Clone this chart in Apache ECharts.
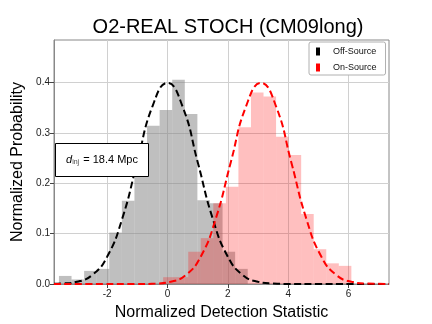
<!DOCTYPE html>
<html>
<head>
<meta charset="utf-8">
<script src="https://cdn.jsdelivr.net/npm/echarts@6/dist/echarts.min.js"></script>
<style>
html,body{margin:0;padding:0;background:#fff;}
#chart{width:432px;height:324px;}
</style>
</head>
<body>
<div id="chart"></div>
<script>
// ---- data ----
const titleText = 'O2-REAL STOCH (CM09long)';
const xLabel = 'Normalized Detection Statistic';
const yLabel = 'Normalized Probability';
const xTicks = [-2, 0, 2, 4, 6];
const yTicks = [0.0, 0.1, 0.2, 0.3, 0.4];

// Off-source histogram (gray)
const offBinStart = -3.596;
const offBinWidth = 0.417;
const offValues = [0.016, 0.009, 0.026, 0.030, 0.102, 0.165, 0.250, 0.314, 0.345, 0.405, 0.337, 0.166, 0.160, 0.064, 0.030];

// On-source histogram (pink)
const onBinStart = -0.144;
const onBinWidth = 0.4158;
const onValues = [0.0135, 0.0135, 0.064, 0.091, 0.160, 0.193, 0.311, 0.380, 0.372, 0.292, 0.256, 0.139, 0.069, 0.041, 0.036];

// Off-source fit curve (black dashed)
const offCurveX = [-3.76, -3.5, -3, -2.5, -2, -1.5, -1, -0.5, 0, 0.5, 1, 1.5, 2, 2.5, 3, 3.5, 4, 5, 6, 7.34];
const offCurveY = [0.0003, 0.0009, 0.0044, 0.0175, 0.054, 0.1295, 0.242, 0.352, 0.399, 0.352, 0.242, 0.1295, 0.054, 0.0175, 0.0044, 0.0009, 0.0001, 0, 0, 0];

// On-source fit curve (red dashed)
const onCurveX = [-3.76, -1, -0.4, 0.1, 0.6, 1.1, 1.6, 2.1, 2.6, 3.1, 3.6, 4.1, 4.6, 5.1, 5.6, 6.1, 6.6, 7.34];
const onCurveY = [0, 0, 0.0009, 0.0044, 0.0175, 0.054, 0.1295, 0.242, 0.352, 0.399, 0.352, 0.242, 0.1295, 0.054, 0.0175, 0.0044, 0.0009, 0.0001];

const legendNames = ['Off-Source', 'On-Source'];
const annotation = { d: 'd', sub: 'inj', rest: ' = 18.4 Mpc' };

// ---- build ----
function histData(start, width, vals) {
  return vals.map((v, i) => [start + i * width, start + (i + 1) * width, v]);
}
function zip(xs, ys) { return xs.map((x, i) => [x, ys[i]]); }
function histRenderer(fill) {
  return function (params, api) {
    const p0 = api.coord([api.value(0), api.value(2)]);
    const p1 = api.coord([api.value(1), 0]);
    return {
      type: 'rect',
      shape: { x: p0[0], y: p0[1], width: p1[0] - p0[0], height: p1[1] - p0[1] },
      style: { fill: fill }
    };
  };
}

const FONT = "'Liberation Sans', Arial, sans-serif";
const chart = echarts.init(document.getElementById('chart'), null, { renderer: 'canvas' });

chart.setOption({
  animation: false,
  backgroundColor: '#ffffff',
  textStyle: { fontFamily: FONT },
  title: {
    text: titleText,
    left: 223,
    textAlign: 'center',
    top: 12,
    textStyle: { fontFamily: FONT, fontSize: 20, fontWeight: 'normal', color: '#000' }
  },
  grid: {
    left: 54, right: 43, top: 40, bottom: 40,
    containLabel: false,
    outerBoundsMode: 'none',
    show: true, borderColor: '#888', borderWidth: 1, backgroundColor: 'transparent'
  },
  legend: {
    orient: 'vertical',
    left: 309, top: 42,
    data: [
      { name: legendNames[0], itemStyle: { color: '#000000' } },
      { name: legendNames[1], itemStyle: { color: '#ff0000' } }
    ],
    icon: 'rect',
    itemWidth: 4, itemHeight: 8,
    itemGap: 7,
    padding: [5, 9, 3, 7],
    backgroundColor: '#ffffff',
    borderColor: '#b0b0b0', borderWidth: 1, borderRadius: 2,
    textStyle: { fontFamily: FONT, fontSize: 9, color: '#111', padding: [0, 0, 0, 8] }
  },
  xAxis: {
    type: 'value',
    min: -3.76, max: 7.34,
    name: xLabel,
    nameLocation: 'middle',
    nameGap: 21,
    nameTextStyle: { fontFamily: FONT, fontSize: 16, color: '#000' },
    axisLine: { show: true, onZero: false, lineStyle: { color: '#888', width: 1 } },
    axisTick: { show: true, customValues: xTicks, length: 4, lineStyle: { color: '#444' } },
    axisLabel: { customValues: xTicks, fontSize: 10, color: '#222', margin: 5, fontFamily: FONT },
    splitLine: { show: true, lineStyle: { color: '#d0d0d0', width: 1 } }
  },
  yAxis: {
    type: 'value',
    min: 0, max: 0.484, interval: 0.1,
    name: yLabel,
    nameLocation: 'middle',
    nameGap: 28,
    nameTextStyle: { fontFamily: FONT, fontSize: 16, color: '#000' },
    axisLine: { show: true, onZero: false, lineStyle: { color: '#888', width: 1 } },
    axisTick: { show: true, customValues: yTicks, length: 4, lineStyle: { color: '#444' } },
    axisLabel: { customValues: yTicks, fontSize: 10, color: '#222', margin: 4, fontFamily: FONT,
      formatter: v => v.toFixed(1) },
    splitLine: { show: true, lineStyle: { color: '#d0d0d0', width: 1 } }
  },
  series: [
    {
      name: 'Off-Source hist', type: 'custom', z: 2,
      renderItem: histRenderer('rgba(128,128,128,0.5)'),
      encode: { x: [0, 1], y: 2 },
      data: histData(offBinStart, offBinWidth, offValues)
    },
    {
      name: 'On-Source hist', type: 'custom', z: 3,
      renderItem: histRenderer('rgba(255,0,0,0.25)'),
      encode: { x: [0, 1], y: 2 },
      data: histData(onBinStart, onBinWidth, onValues)
    },
    {
      name: legendNames[0], type: 'line', z: 5,
      data: zip(offCurveX, offCurveY),
      smooth: 0.5, showSymbol: false, symbol: 'none',
      itemStyle: { color: '#000000' },
      lineStyle: { color: '#000000', width: 2, type: [7, 3.5] }
    },
    {
      name: legendNames[1], type: 'line', z: 5,
      data: zip(onCurveX, onCurveY),
      smooth: 0.5, showSymbol: false, symbol: 'none',
      itemStyle: { color: '#ff0000' },
      lineStyle: { color: '#ff0000', width: 2, type: [7, 3.5] }
    }
  ],
  graphic: [
    {
      type: 'rect', z: 100,
      shape: { x: 55.5, y: 143.5, width: 93, height: 33 },
      style: { fill: '#ffffff', stroke: '#000000', lineWidth: 1 }
    },
    {
      type: 'text', z: 101, x: 102, y: 160,
      style: {
        text: '{i|' + annotation.d + '}{s|' + annotation.sub + '}{n|' + annotation.rest + '}',
        align: 'center', verticalAlign: 'middle',
        rich: {
          i: { fontFamily: FONT, fontStyle: 'italic', fontSize: 11, fill: '#000', color: '#000' },
          s: { fontFamily: FONT, fontSize: 7, fill: '#444', color: '#444', padding: [5, 1, 0, 0] },
          n: { fontFamily: FONT, fontSize: 11, fill: '#000', color: '#000' }
        }
      }
    }
  ]
});
</script>
</body>
</html>
